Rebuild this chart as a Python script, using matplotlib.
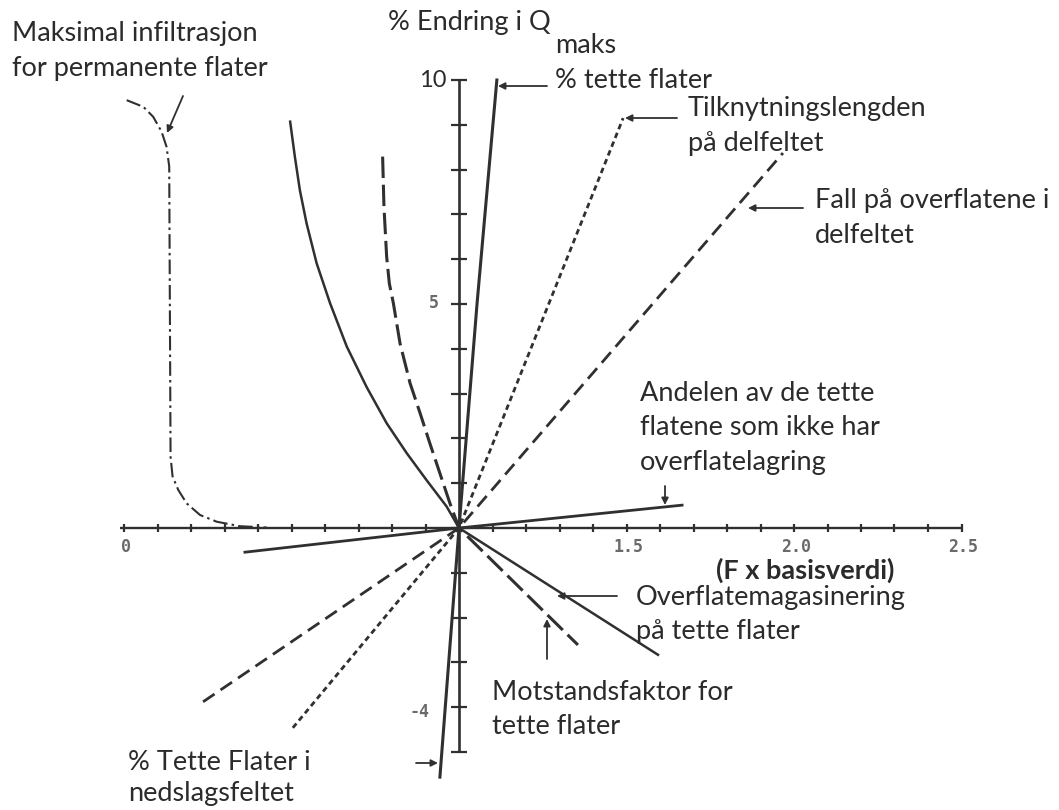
import numpy as np
import matplotlib
matplotlib.use("Agg")
import matplotlib.pyplot as plt

# Sensitivity of peak runoff (% change in Q_maks) against parameter factor F x base value
x_ticks = np.round(np.arange(0.0, 2.501, 0.1), 2)
y_ticks = np.arange(-5, 11, 1)
x_tick_labels = {0.0: "0", 1.5: "1.5", 2.0: "2.0", 2.5: "2.5"}
y_tick_labels = {10: "10", 5: "5", -4: "-4"}

# % impervious area (solid, steep)
tette_x = [0.943, 1.0, 1.054, 1.113]
tette_y = [-5.56, 0.0, 5.02, 10.0]

# connection length of the sub-catchment (fine dots)
tilk_x = [0.504, 1.0, 1.49]
tilk_y = [-4.46, 0.0, 9.15]

# surface slope in the sub-catchment (dashed)
fall_x = [0.236, 1.0, 1.967]
fall_y = [-3.88, 0.0, 8.37]

# share of impervious area without surface storage (solid, flat)
andel_x = [0.361, 1.0, 1.666]
andel_y = [-0.54, 0.0, 0.51]

# surface storage on impervious areas (solid curve)
magas_x = [0.496, 0.510, 0.525, 0.545, 0.575, 0.615, 0.665, 0.724, 0.784, 0.844, 0.903, 0.963, 1.0, 1.594]
magas_y = [9.07, 8.29, 7.54, 6.80, 5.91, 5.02, 4.05, 3.15, 2.34, 1.67, 1.07, 0.48, 0.0, -2.83]

# roughness factor for impervious areas (long dashes)
motst_x = [0.772, 0.776, 0.784, 0.792, 0.804, 0.824, 0.854, 0.884, 0.913, 0.943, 0.973, 1.0, 1.355]
motst_y = [8.29, 7.17, 6.06, 5.46, 5.02, 4.12, 3.23, 2.56, 1.89, 1.22, 0.55, 0.0, -2.61]

# maximum infiltration for pervious areas (dash-dot)
infil_x = [0.008, 0.058, 0.087, 0.112, 0.127, 0.135, 0.139, 0.145, 0.162, 0.187, 0.227, 0.277, 0.346, 0.426]
infil_y = [9.55, 9.40, 9.18, 8.85, 8.51, 8.07, 1.59, 1.15, 0.85, 0.55, 0.29, 0.14, 0.04, 0.01]

W, H = 1059, 810
X0, XS = 124.0, 335.0     # pixel of x=0, pixels per unit
Y0, YS = 528.0, 44.8      # pixel of y=0, pixels per unit

fig = plt.figure(figsize=(W / 100, H / 100), dpi=100)
fig.patch.set_facecolor("white")
ax = fig.add_axes([0, 0, 1, 1])
ax.set_xlim(-X0 / XS, (W - X0) / XS)
ax.set_ylim((Y0 - H) / YS, Y0 / YS)
ax.axis("off")


def px(x, y):
    """Pixel position on the page -> data coordinates."""
    return ((x - X0) / XS, (Y0 - y) / YS)


ink = "#303030"
txt = "#2b2b2b"
font = ["Lato", "DejaVu Sans"]
fs = 19.5

# axes with cross ticks
ax.plot([x_ticks[0] - 0.012, x_ticks[-1]], [0, 0], color=ink, lw=1.7, solid_capstyle="butt")
ax.plot([1.0, 1.0], [y_ticks[0], y_ticks[-1]], color=ink, lw=1.9, solid_capstyle="butt")
ax.plot(x_ticks, np.zeros_like(x_ticks), ls="none", marker="|", ms=6, mew=1.6, color=ink)
ax.plot(np.ones_like(y_ticks, dtype=float), y_ticks, ls="none", marker="_", ms=11, mew=1.6, color=ink)

tick_font = dict(family="DejaVu Sans Mono", fontsize=12, fontweight="bold", color="#6a6a6a")
for v, s in x_tick_labels.items():
    ax.text(v + 0.005, -0.42, s, ha="center", va="center", **tick_font)
ax.text(*px(447, 80), y_tick_labels[10], ha="right", va="center",
        family=font, fontsize=17, color=txt)
ax.text(*px(439, 303), y_tick_labels[5], ha="right", va="center", **tick_font)
ax.text(*px(429, 712), y_tick_labels[-4], ha="right", va="center", **tick_font)

# curves
ax.plot(tette_x, tette_y, color=ink, lw=2.2)
ax.plot(tilk_x, tilk_y, color=ink, lw=2.0, dashes=(2.0, 1.4))
ax.plot(fall_x, fall_y, color=ink, lw=2.0, dashes=(5, 2.6))
ax.plot(andel_x, andel_y, color=ink, lw=2.0)
ax.plot(magas_x, magas_y, color=ink, lw=1.8)
ax.plot(motst_x, motst_y, color=ink, lw=2.2, dashes=(7, 2.2))
ax.plot(infil_x, infil_y, color=ink, lw=1.5, dashes=(7, 2, 1.2, 2))

# pointer arrows
arrow = dict(arrowstyle="-|>", color=ink, lw=1.3, mutation_scale=10, shrinkA=0, shrinkB=0)
pointers = [
    ((183, 96), (167, 133)),
    ((547, 86), (498, 86)),
    ((677, 118), (625, 118)),
    ((803, 208), (748, 208)),
    ((665, 486), (665, 505)),
    ((617, 596), (557, 596)),
    ((547, 659), (547, 619)),
    ((416, 763), (438, 763)),
]
for (sx, sy), (ex, ey) in pointers:
    ax.annotate("", xy=px(ex, ey), xytext=px(sx, sy), arrowprops=arrow)

# annotation texts
labels = [
    (12, 33, "Maksimal infiltrasjon"),
    (12, 68, "for permanente flater"),
    (555, 80, "% tette flater"),
    (688, 108, "Tilknytningslengden"),
    (688, 143, "på delfeltet"),
    (815, 200, "Fall på overflatene i"),
    (815, 235, "delfeltet"),
    (640, 393, "Andelen av de tette"),
    (640, 427, "flatene som ikke har"),
    (640, 462, "overflatelagring"),
    (636, 598, "Overflatemagasinering"),
    (636, 631, "på tette flater"),
    (492, 692, "Motstandsfaktor for"),
    (492, 727, "tette flater"),
    (128, 763, "% Tette Flater i"),
    (128, 794, "nedslagsfeltet"),
]
for x, y, s in labels:
    ax.text(*px(x, y), s, ha="left", va="center", family=font, fontsize=fs, color=txt)

ax.text(*px(388, 22), "% Endring i Q", ha="left", va="center", family=font, fontsize=fs, color=txt)
ax.text(*px(555, 45), "maks", ha="left", va="center", family=font, fontsize=fs, color=txt)
ax.text(*px(716, 570), "(F x basisverdi)", ha="left", va="center", family=font,
        fontsize=fs, fontweight="bold", color=txt)

fig.savefig("out.png", dpi=100, facecolor="white")
